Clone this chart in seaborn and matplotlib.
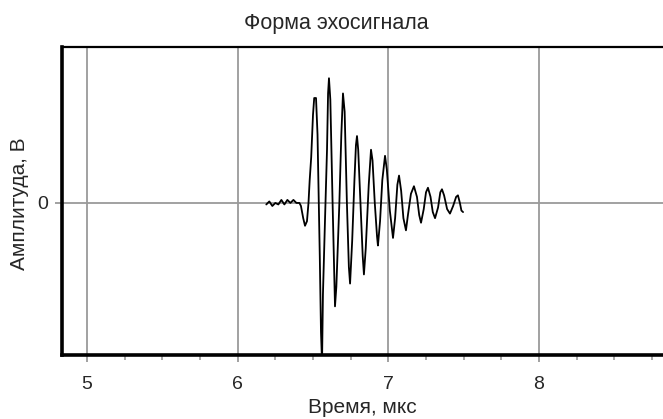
import matplotlib
matplotlib.use("Agg")
import matplotlib.pyplot as plt
import pandas as pd
import seaborn as sns
from matplotlib.ticker import MultipleLocator

# echo signal (time in us, amplitude in relative units)
time_us = [
    6.19, 6.21, 6.23, 6.25, 6.27, 6.29, 6.31, 6.33, 6.35, 6.37, 6.39, 6.41,
    6.42, 6.435, 6.447, 6.46, 6.47, 6.478, 6.488, 6.50, 6.508, 6.52,
    6.53, 6.545, 6.553, 6.560, 6.566, 6.58, 6.593, 6.60, 6.606, 6.615,
    6.63, 6.646, 6.655, 6.675, 6.688, 6.699, 6.71, 6.725, 6.738, 6.746,
    6.76, 6.775, 6.785, 6.792, 6.80, 6.815, 6.83, 6.838, 6.85, 6.87,
    6.885, 6.895, 6.91, 6.925, 6.931, 6.945, 6.96, 6.978, 6.99, 7.01,
    7.031, 7.045, 7.06, 7.071, 7.085, 7.10, 7.117, 7.13, 7.15, 7.17,
    7.19, 7.205, 7.217, 7.235, 7.25, 7.263, 7.28, 7.295, 7.31, 7.33,
    7.345, 7.356, 7.37, 7.39, 7.409, 7.43, 7.45, 7.462, 7.475, 7.485, 7.496,
]
amplitude = [
    -0.01, 0.01, -0.02, 0.0, -0.01, 0.02, -0.01, 0.02, 0.0, 0.02, 0.0, 0.0,
    -0.02, -0.10, -0.15, -0.12, 0.0, 0.15, 0.30, 0.58, 0.69, 0.69,
    0.45, -0.35, -0.85, -1.05, -0.60, -0.10, 0.35, 0.72, 0.82, 0.68,
    0.0, -0.68, -0.55, 0.0, 0.45, 0.72, 0.60, 0.0, -0.42, -0.53,
    -0.25, 0.15, 0.38, 0.44, 0.35, 0.0, -0.35, -0.47, -0.30, 0.12,
    0.35, 0.28, 0.0, -0.22, -0.28, -0.12, 0.15, 0.31, 0.22, -0.05,
    -0.23, -0.10, 0.12, 0.18, 0.08, -0.10, -0.18, -0.08, 0.06, 0.11,
    0.04, -0.08, -0.13, -0.04, 0.07, 0.10, 0.04, -0.06, -0.10, -0.03,
    0.07, 0.09, 0.05, -0.04, -0.07, -0.02, 0.04, 0.05, 0.0, -0.05, -0.06,
]
x_ticks = [5, 6, 7, 8]

df = pd.DataFrame({"t": time_us, "a": amplitude})

sns.set_style("white")
plt.rcParams["font.family"] = ["Liberation Sans", "DejaVu Sans"]

fig = plt.figure(figsize=(6.63, 4.19), dpi=100)
ax = fig.add_axes([0.0935, 0.1527, 0.9065, 0.7353])

sns.lineplot(data=df, x="t", y="a", sort=False, color="black", linewidth=1.3, ax=ax)

ax.set_xlim(4.834, 8.823)
ax.set_ylim(-1.0, 1.026)
ax.set_xticks(x_ticks)
ax.xaxis.set_minor_locator(MultipleLocator(0.25))
ax.set_yticks([0])
ax.grid(True, which="major", color="#9a9a9a", linewidth=1.3)
ax.set_axisbelow(True)

for side in ["left", "bottom"]:
    ax.spines[side].set_linewidth(2.6)
    ax.spines[side].set_color("black")
ax.spines["top"].set_linewidth(1.6)
ax.spines["top"].set_color("black")
ax.spines["right"].set_visible(False)

ax.tick_params(axis="x", which="major", direction="out", length=5, width=1.3,
               color="#9a9a9a", labelsize=14, pad=10, bottom=True)
ax.tick_params(axis="x", which="minor", direction="out", length=3.5, width=1.2,
               color="#9a9a9a", bottom=True)
ax.tick_params(axis="y", which="major", direction="out", length=5, width=1.3,
               color="#9a9a9a", labelsize=14, pad=5, left=True)

fig.text(0.508, 0.943, "Форма эхосигнала", fontsize=15.5, ha="center", va="center")
ax.set_xlabel("Время, мкс", fontsize=15, labelpad=4)
ax.set_ylabel("Амплитуда, В", fontsize=15)
ax.yaxis.set_label_coords(-0.055, 0.49)

fig.savefig("out.png", dpi=100)
